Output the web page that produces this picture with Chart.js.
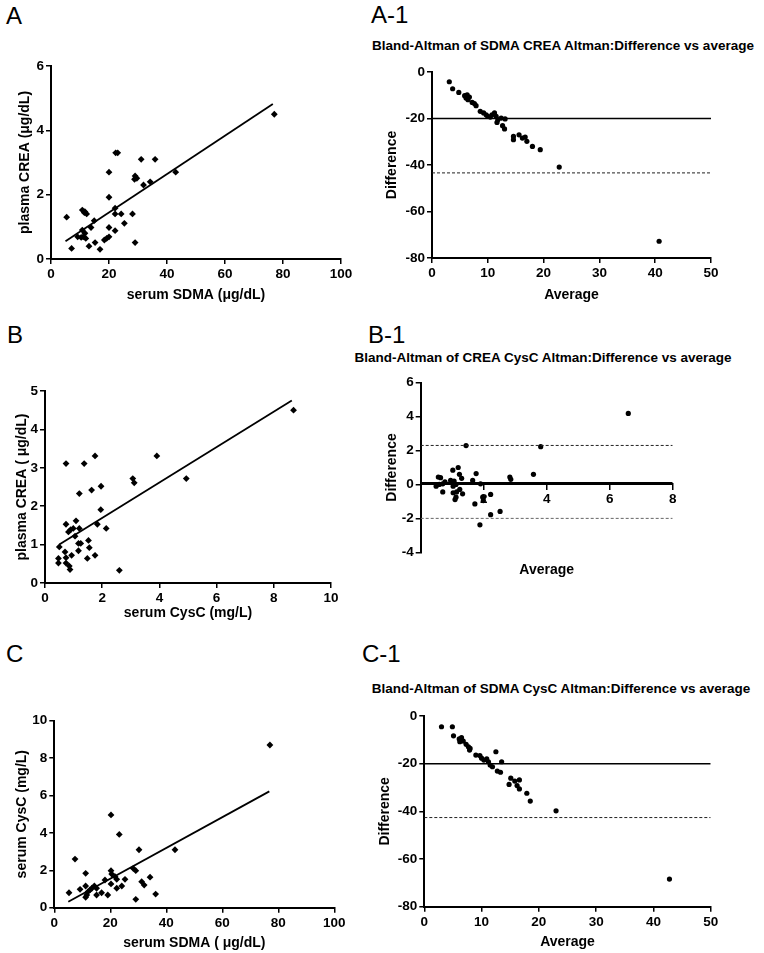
<!DOCTYPE html>
<html>
<head>
<meta charset="utf-8">
<script src="https://cdn.jsdelivr.net/npm/chart.js@4.4.1/dist/chart.umd.min.js"></script>
<style>
  body { margin: 0; background: #fff; }
  #page { position: relative; width: 764px; height: 953px; overflow: hidden; background: #fff;
          font-family: "Liberation Sans", Arial, Helvetica, sans-serif; color: #000; }
  #page canvas { position: absolute; }
  .lbl { position: absolute; font-size: 24px; line-height: 24px; white-space: nowrap; }
  .ttl { position: absolute; font-size: 13.5px; font-weight: bold; line-height: 16px; white-space: nowrap;
         transform: translateX(-50%); }
</style>
</head>
<body>
<div id="page">
  <div class="lbl" style="left:6px;top:4px">A</div>
  <div class="lbl" style="left:371px;top:3px">A-1</div>
  <div class="lbl" style="left:7px;top:323px">B</div>
  <div class="lbl" style="left:368px;top:323px">B-1</div>
  <div class="lbl" style="left:6px;top:642px">C</div>
  <div class="lbl" style="left:362px;top:642px">C-1</div>
  <div class="ttl" style="left:563px;top:38px">Bland-Altman of SDMA CREA Altman:Difference vs average</div>
  <div class="ttl" style="left:543px;top:350px">Bland-Altman of CREA CysC Altman:Difference vs average</div>
  <div class="ttl" style="left:561px;top:681px">Bland-Altman of SDMA CysC Altman:Difference vs average</div>
</div>
<script>
// ---------------- DATA ----------------
// Panel A: serum SDMA (x) vs plasma CREA (y)
const aSdma = [5.4, 7.1, 9.2, 10.4, 10.8, 10.8, 11.1, 11.5, 11.7, 11.7, 12.0, 12.3, 13.1, 13.8, 14.9, 15.2, 16.9, 18.4, 19.2, 20.0, 20.0, 20.0, 20.0, 22.1, 22.1, 22.1, 22.3, 23.0, 24.2, 25.3, 28.1, 28.8, 29.0, 29.0, 29.6, 31.1, 31.9, 34.2, 35.9, 43.0, 77.0];
const aCrea = [1.30, 0.33, 0.69, 0.67, 0.90, 1.52, 0.69, 1.44, 1.47, 0.80, 0.64, 1.40, 0.40, 0.98, 1.19, 0.51, 0.30, 0.59, 0.64, 0.69, 0.98, 1.92, 2.70, 0.88, 1.40, 1.58, 3.30, 3.30, 1.40, 1.11, 1.40, 2.48, 0.51, 2.58, 2.51, 3.10, 2.30, 2.40, 3.10, 2.70, 4.50];
const aFitX = [5, 76.5];
const aFitY = [0.55, 4.82];
const aXTicks = [0, 20, 40, 60, 80, 100];
const aYTicks = [0, 2, 4, 6];

// Panel A-1: Bland-Altman SDMA / CREA
const a1Avg  = [3.1, 3.7, 4.8, 5.85, 6.3, 6.1, 6.45, 6.7, 7.2, 7.6, 7.9, 8.65, 9.25, 9.7, 10.0, 10.45, 10.75, 11.2, 11.5, 11.8, 11.65, 12.4, 13.1, 12.65, 13.0, 14.6, 14.6, 15.6, 16.2, 16.7, 17.0, 18.0, 19.4, 22.8, 40.7];
const a1Diff = [-4.2, -7.2, -8.8, -10.2, -9.8, -11.2, -11.9, -10.8, -13.1, -13.6, -14.5, -16.9, -17.6, -18.4, -19.1, -19.4, -18.4, -17.6, -19.1, -20.5, -21.7, -19.8, -20.2, -23.1, -24.5, -27.7, -29.1, -27.0, -28.4, -28.0, -29.8, -32.0, -33.4, -40.9, -72.8];
const a1Bias = [-20];
const a1Limits = [-43.4];
const a1XTicks = [0, 10, 20, 30, 40, 50];
const a1YTicks = [-80, -60, -40, -20, 0];

// Panel B: serum CysC (x) vs plasma CREA (y)
const bCysC = [0.735, 1.37, 1.75, 3.91, 1.20, 1.63, 1.96, 3.07, 3.12, 1.95, 0.735, 1.085, 0.82, 0.90, 0.99, 1.05, 1.20, 1.83, 2.14, 0.50, 0.70, 1.17, 1.25, 1.52, 1.55, 1.17, 0.93, 1.75, 1.48, 0.47, 0.47, 0.735, 0.735, 0.85, 0.875, 2.60, 4.94, 8.69];
const bCrea = [3.11, 3.11, 3.31, 3.31, 2.33, 2.42, 2.52, 2.72, 2.61, 1.91, 1.53, 1.62, 1.33, 1.39, 1.42, 1.22, 1.42, 1.53, 1.42, 0.94, 0.81, 1.03, 1.03, 1.11, 0.92, 0.84, 0.72, 0.72, 0.64, 0.64, 0.52, 0.66, 0.52, 0.44, 0.35, 0.33, 2.72, 4.50];
const bFitX = [0.5, 8.63];
const bFitY = [1.0, 4.75];
const bXTicks = [0, 2, 4, 6, 8, 10];
const bYTicks = [0, 1, 2, 3, 4, 5];

// Panel B-1: Bland-Altman CREA / CysC
const b1Avg  = [1.44, 1.19, 1.02, 1.23, 1.30, 1.76, 1.65, 0.56, 0.63, 0.77, 0.70, 0.49, 0.59, 0.95, 1.06, 1.12, 1.03, 0.70, 1.03, 1.14, 1.24, 1.12, 1.33, 1.09, 1.90, 1.97, 1.99, 2.22, 1.72, 2.22, 2.52, 1.88, 2.83, 2.86, 3.58, 3.81, 6.59];
const b1Diff = [2.29, 1.00, 0.84, 0.60, 0.36, 0.64, 0.24, 0.44, 0.40, 0.16, 0.04, -0.10, 0.00, 0.24, 0.20, 0.00, -0.10, -0.44, -0.49, -0.44, -0.29, -0.75, -0.55, -0.89, 0.04, -0.75, -0.95, -0.59, -1.15, -1.78, -1.59, -2.38, 0.44, 0.30, 0.60, 2.23, 4.19];
const b1Bias = [0.1];
const b1Limits = [2.3, -2.0];
const b1XTicks = [0, 2, 4, 6, 8];
const b1YTicks = [-4, -2, 0, 2, 4, 6];

// Panel C: serum SDMA (x) vs serum CysC (y)
const cSdma = [5.25, 7.4, 9.2, 11.2, 11.2, 11.2, 11.6, 12.1, 12.75, 13.4, 14.3, 15.1, 15.1, 16.9, 18.1, 19.1, 20.25, 20.25, 20.5, 20.25, 21.7, 22.3, 22.3, 23.2, 24.1, 25.25, 28.2, 29.1, 29.1, 30.25, 31.2, 32.1, 34.2, 36.2, 43.1, 77.0];
const cCysC = [0.80, 2.60, 0.98, 1.84, 1.16, 0.56, 0.68, 0.86, 0.95, 1.04, 1.16, 1.04, 0.68, 0.80, 1.48, 0.68, 4.96, 1.98, 1.80, 1.27, 1.66, 1.52, 1.04, 3.92, 1.16, 1.52, 2.10, 1.98, 0.45, 3.10, 1.39, 1.21, 1.63, 0.73, 3.10, 8.70];
const cFitX = [5, 76.8];
const cFitY = [0.32, 6.22];
const cXTicks = [0, 20, 40, 60, 80, 100];
const cYTicks = [0, 2, 4, 6, 8, 10];

// Panel C-1: Bland-Altman SDMA / CysC
const c1Avg  = [3.0, 4.9, 5.1, 6.1, 6.5, 6.8, 6.2, 7.3, 7.7, 8.0, 7.9, 9.0, 9.7, 10.0, 10.4, 10.9, 11.2, 12.5, 11.5, 11.9, 13.5, 12.75, 13.3, 15.1, 15.8, 16.6, 14.8, 16.2, 16.6, 17.9, 18.5, 23.0, 42.8];
const c1Diff = [-4.5, -4.5, -8.3, -9.6, -9.1, -10.5, -10.8, -11.9, -12.9, -13.6, -14.3, -16.4, -16.6, -17.7, -18.5, -18.0, -19.2, -15.0, -20.6, -21.3, -19.2, -23.1, -23.6, -26.1, -27.3, -26.8, -28.7, -29.2, -30.6, -32.4, -35.7, -39.8, -68.4];
const c1Bias = [-20];
const c1Limits = [-42.6];
const c1XTicks = [0, 10, 20, 30, 40, 50];
const c1YTicks = [-80, -60, -40, -20, 0];

// ---------------- RENDERING ----------------
const FONT = '"Liberation Sans", Arial, Helvetica, sans-serif';
Chart.defaults.font.family = FONT;
Chart.defaults.color = '#000';
const page = document.getElementById('page');
const TICK_SIZE = 13.5, TITLE_SIZE = 14;

function pts(xs, ys) { return xs.map((x, i) => ({ x: x, y: ys[i] })); }

function scatterSet(xs, ys, style, r) {
  return { data: pts(xs, ys), pointStyle: style, pointRadius: r, pointHoverRadius: r,
           backgroundColor: '#000', borderColor: '#000', borderWidth: 0, showLine: false };
}
function lineSet(xs, ys, width, dash, color) {
  return { data: pts(xs, ys), showLine: true, pointRadius: 0, pointHoverRadius: 0,
           borderColor: color || '#000', borderWidth: width, borderDash: dash || [], fill: false, tension: 0 };
}
function hLine(y, xTicks, width, dash, color) {
  return lineSet([xTicks[0], xTicks[xTicks.length - 1]], [y, y], width, dash, color);
}

function build(spec) {
  const c = spec.canvas, p = spec.plot;
  const cv = document.createElement('canvas');
  cv.width = c.w; cv.height = c.h;
  cv.style.left = c.l + 'px'; cv.style.top = c.t + 'px';
  cv.style.width = c.w + 'px'; cv.style.height = c.h + 'px';
  page.appendChild(cv);

  const tLH = TITLE_SIZE * 1.2;
  const yW = p.l - c.l;
  const xH = c.t + c.h - p.b;
  const tickFont = { family: FONT, size: TICK_SIZE, weight: 'bold' };
  const titleFont = { family: FONT, size: TITLE_SIZE, weight: 'bold' };
  const grid = { drawOnChartArea: false, drawTicks: true, tickLength: 5, color: '#000', lineWidth: 1.5 };
  const border = { display: true, color: '#000', width: 2 };
  const xT = spec.xTicks, yT = spec.yTicks;
  const xTitle = { display: true, text: spec.xTitle, font: titleFont, color: '#000',
                   padding: { top: 0, bottom: c.t + c.h - spec.xTitleY - tLH / 2 } };

  const scales = {
    x: {
      type: 'linear', min: xT[0], max: xT[xT.length - 1],
      position: spec.xAtZero ? { y: 0 } : 'bottom',
      border: border, grid: grid,
      ticks: { font: tickFont, color: '#000', padding: 2, maxRotation: 0, autoSkip: false,
               callback: v => (spec.hideX0 && v === 0) ? '' : String(v) },
      afterBuildTicks: s => { s.ticks = xT.map(v => ({ value: v })); },
      title: spec.xAtZero ? { display: false } : xTitle
    },
    y: {
      type: 'linear', position: 'left', min: yT[0], max: yT[yT.length - 1],
      border: border, grid: grid,
      ticks: { font: tickFont, color: '#000', padding: 2, autoSkip: false },
      afterBuildTicks: s => { s.ticks = yT.map(v => ({ value: v })); },
      afterFit: s => { s.width = yW; },
      title: { display: true, text: spec.yTitle, font: titleFont, color: '#000',
               padding: { top: spec.yTitleX - c.l - tLH / 2, bottom: 0 } }
    }
  };
  if (!spec.xAtZero) {
    scales.x.afterFit = s => { s.height = xH; };
  } else {
    scales.x2 = {
      type: 'linear', position: 'bottom', min: xT[0], max: xT[xT.length - 1],
      ticks: { display: false }, grid: { display: false }, border: { display: false },
      afterFit: s => { s.height = xH; },
      title: xTitle
    };
  }

  new Chart(cv, {
    type: 'scatter',
    data: { datasets: spec.datasets },
    options: {
      responsive: false, animation: false, devicePixelRatio: 1,
      layout: { padding: { left: 0, top: p.t - c.t, right: c.l + c.w - p.r, bottom: 0 } },
      plugins: { legend: { display: false }, tooltip: { enabled: false }, title: { display: false } },
      scales: scales
    }
  });
}

// Panel A
build({
  canvas: { l: 0, t: 30, w: 365, h: 280 }, plot: { l: 51, t: 66, r: 341, b: 259 },
  yTitleX: 25, xTitleY: 295,
  xTicks: aXTicks, yTicks: aYTicks,
  xTitle: 'serum SDMA (\u03BCg/dL)', yTitle: 'plasma CREA (\u03BCg/dL)',
  datasets: [ lineSet(aFitX, aFitY, 1.8), scatterSet(aSdma, aCrea, 'rectRot', 3.4) ]
});

// Panel A-1
build({
  canvas: { l: 370, t: 55, w: 394, h: 255 }, plot: { l: 432, t: 72, r: 711, b: 258 },
  yTitleX: 391.7, xTitleY: 295,
  xTicks: a1XTicks, yTicks: a1YTicks,
  xTitle: 'Average', yTitle: 'Difference',
  datasets: [ hLine(a1Bias[0], a1XTicks, 1.6), hLine(a1Limits[0], a1XTicks, 1, [3, 2], '#222'),
              scatterSet(a1Avg, a1Diff, 'circle', 2.6) ]
});

// Panel B
build({
  canvas: { l: 0, t: 340, w: 365, h: 290 }, plot: { l: 45, t: 391, r: 331, b: 583 },
  yTitleX: 21.7, xTitleY: 613,
  xTicks: bXTicks, yTicks: bYTicks,
  xTitle: 'serum CysC (mg/L)', yTitle: 'plasma CREA ( \u03BCg/dL)',
  datasets: [ lineSet(bFitX, bFitY, 1.8), scatterSet(bCysC, bCrea, 'rectRot', 3.4) ]
});

// Panel B-1
build({
  canvas: { l: 370, t: 365, w: 394, h: 265 }, plot: { l: 420.7, t: 382.7, r: 672.7, b: 552.3 },
  yTitleX: 391.7, xTitleY: 570, xAtZero: true, hideX0: true,
  xTicks: b1XTicks, yTicks: b1YTicks,
  xTitle: 'Average', yTitle: 'Difference',
  datasets: [ hLine(b1Bias[0], b1XTicks, 1.6), hLine(b1Limits[0], b1XTicks, 1, [3, 2], '#222'),
              hLine(b1Limits[1], b1XTicks, 1, [3, 2], '#666'),
              scatterSet(b1Avg, b1Diff, 'circle', 2.6) ]
});

// Panel C
build({
  canvas: { l: 0, t: 670, w: 365, h: 283 }, plot: { l: 54.3, t: 720.7, r: 334.3, b: 907.7 },
  yTitleX: 21.7, xTitleY: 943,
  xTicks: cXTicks, yTicks: cYTicks,
  xTitle: 'serum SDMA ( \u03BCg/dL)', yTitle: 'serum CysC (mg/L)',
  datasets: [ lineSet(cFitX, cFitY, 1.8), scatterSet(cSdma, cCysC, 'rectRot', 3.4) ]
});

// Panel C-1
build({
  canvas: { l: 370, t: 700, w: 394, h: 253 }, plot: { l: 424.3, t: 716, r: 710.7, b: 906.7 },
  yTitleX: 385, xTitleY: 941.7,
  xTicks: c1XTicks, yTicks: c1YTicks,
  xTitle: 'Average', yTitle: 'Difference',
  datasets: [ hLine(c1Bias[0], c1XTicks, 1.6), hLine(c1Limits[0], c1XTicks, 1, [3, 2], '#222'),
              scatterSet(c1Avg, c1Diff, 'circle', 2.6) ]
});
</script>
</body>
</html>
